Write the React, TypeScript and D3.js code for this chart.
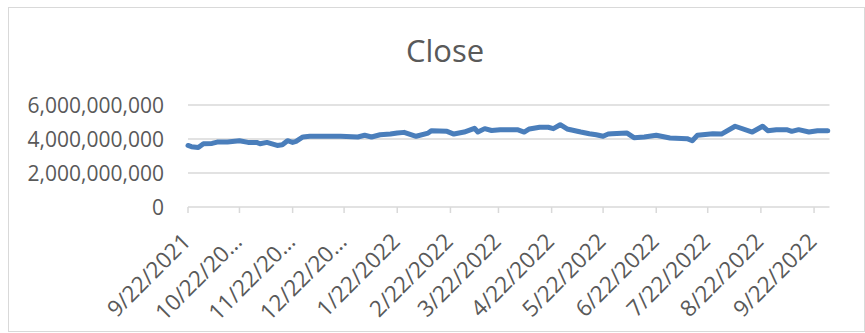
import * as d3 from 'd3'

// Close price series
const dates = [
  '2021-09-22', '2021-09-24', '2021-09-28', '2021-10-01', '2021-10-06', '2021-10-09',
  '2021-10-15', '2021-10-22', '2021-10-27', '2021-11-01', '2021-11-03', '2021-11-07',
  '2021-11-13', '2021-11-16', '2021-11-19', '2021-11-22', '2021-11-24', '2021-11-28',
  '2021-12-02', '2021-12-10', '2021-12-20', '2021-12-30', '2022-01-03', '2022-01-07',
  '2022-01-12', '2022-01-18', '2022-01-22', '2022-01-26', '2022-02-02', '2022-02-09',
  '2022-02-11', '2022-02-20', '2022-02-24', '2022-03-02', '2022-03-08', '2022-03-10',
  '2022-03-14', '2022-03-18', '2022-03-23', '2022-04-02', '2022-04-06', '2022-04-09',
  '2022-04-15', '2022-04-20', '2022-04-23', '2022-04-27', '2022-05-01', '2022-05-09',
  '2022-05-14', '2022-05-18', '2022-05-22', '2022-05-25', '2022-05-27', '2022-06-05',
  '2022-06-09', '2022-06-15', '2022-06-22', '2022-06-30', '2022-07-10', '2022-07-13',
  '2022-07-16', '2022-07-25', '2022-07-30', '2022-08-07', '2022-08-17', '2022-08-23',
  '2022-08-26', '2022-08-31', '2022-09-06', '2022-09-09', '2022-09-13', '2022-09-19',
  '2022-09-24', '2022-09-30',
]

const closeValues = [
  3.62e9, 3.55e9, 3.50e9, 3.72e9, 3.74e9, 3.82e9,
  3.82e9, 3.90e9, 3.80e9, 3.80e9, 3.72e9, 3.80e9,
  3.62e9, 3.66e9, 3.90e9, 3.80e9, 3.86e9, 4.12e9,
  4.16e9, 4.16e9, 4.16e9, 4.12e9, 4.22e9, 4.12e9,
  4.25e9, 4.29e9, 4.35e9, 4.39e9, 4.16e9, 4.35e9,
  4.49e9, 4.45e9, 4.29e9, 4.41e9, 4.63e9, 4.41e9,
  4.61e9, 4.50e9, 4.55e9, 4.55e9, 4.41e9, 4.59e9,
  4.69e9, 4.69e9, 4.61e9, 4.84e9, 4.59e9, 4.41e9,
  4.31e9, 4.25e9, 4.16e9, 4.29e9, 4.31e9, 4.35e9,
  4.08e9, 4.12e9, 4.22e9, 4.06e9, 4.02e9, 3.90e9,
  4.22e9, 4.31e9, 4.29e9, 4.75e9, 4.41e9, 4.75e9,
  4.49e9, 4.55e9, 4.55e9, 4.45e9, 4.55e9, 4.41e9,
  4.49e9, 4.48e9,
]

const tickDates = [
  '2021-09-22', '2021-10-22', '2021-11-22', '2021-12-22', '2022-01-22', '2022-02-22',
  '2022-03-22', '2022-04-22', '2022-05-22', '2022-06-22', '2022-07-22', '2022-08-22',
  '2022-09-22',
]
const tickLabels = [
  '9/22/2021', '10/22/20…', '11/22/20…', '12/22/20…', '1/22/2022', '2/22/2022',
  '3/22/2022', '4/22/2022', '5/22/2022', '6/22/2022', '7/22/2022', '8/22/2022',
  '9/22/2022',
]
const yTicks = [0, 2e9, 4e9, 6e9]

const W = 865
const H = 333
const FONT = '"Open Sans", "Noto Sans", sans-serif'
const TEXT = '#595959'
const GRID = '#d9d9d9'

const parse = d3.utcParse('%Y-%m-%d')

export default function App() {
  const x = d3.scaleUtc()
    .domain([parse('2021-09-22')!, parse('2022-10-01')!])
    .range([188, 829.5])
  const y = d3.scaleLinear().domain([0, 6e9]).range([207, 105])

  const pts = dates.map((d, i) => ({ date: parse(d)!, v: closeValues[i] }))
  const line = d3.line<{ date: Date; v: number }>()
    .x(d => x(d.date))
    .y(d => y(d.v))
  const fmt = d3.format(',')

  return (
    <svg width={W} height={H} style={{ position: 'absolute', left: 0, top: 0 }}>
      <rect x={0} y={0} width={W} height={H} fill="#fff" />
      <rect x={8.5} y={7.5} width={W - 9} height={324} fill="none" stroke={GRID} strokeWidth={1} />

      <text x={445} y={62} textAnchor="middle" fontFamily={FONT} fontSize={31} fill={TEXT}>
        Close
      </text>

      {yTicks.map(t => (
        <g key={t}>
          {t > 0 && (
            <line x1={188} x2={829.5} y1={y(t)} y2={y(t)} stroke={GRID} strokeWidth={1.5} />
          )}
          <text x={164} y={y(t) + 7.5} textAnchor="end" fontFamily={FONT} fontSize={21} fill={TEXT}>
            {fmt(t)}
          </text>
        </g>
      ))}

      {/* date axis */}
      <line x1={188} x2={829.5} y1={207} y2={207} stroke={GRID} strokeWidth={1.5} />
      {tickDates.map((d, i) => {
        const tx = x(parse(d)!)
        return (
          <g key={d}>
            <line x1={tx} x2={tx} y1={207} y2={213} stroke={GRID} strokeWidth={1.5} />
            <text
              transform={`translate(${tx + 4},${243}) rotate(-45)`}
              textAnchor="end"
              fontFamily={FONT}
              fontSize={22.5}
              fill={TEXT}
            >
              {tickLabels[i]}
            </text>
          </g>
        )
      })}

      <path
        d={line(pts) ?? ''}
        fill="none"
        stroke="#4a7ebb"
        strokeWidth={5}
        strokeLinejoin="round"
        strokeLinecap="round"
      />
    </svg>
  )
}
